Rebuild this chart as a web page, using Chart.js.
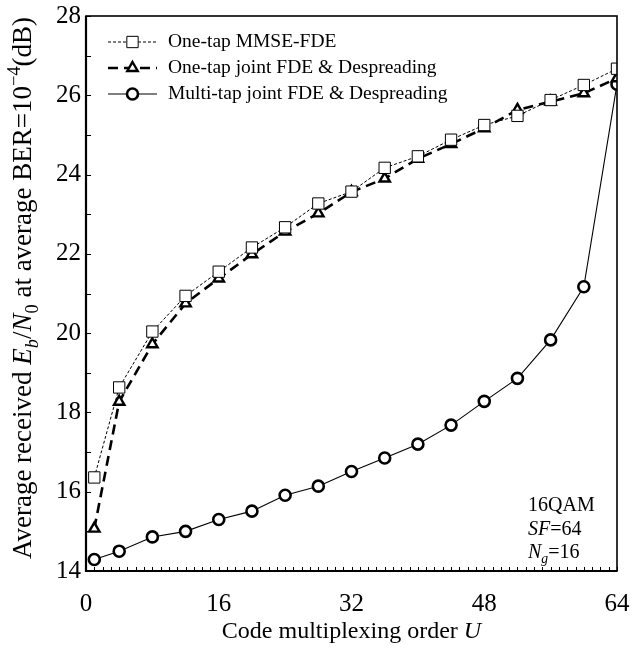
<!DOCTYPE html>
<html>
<head>
<meta charset="utf-8">
<script src="https://cdn.jsdelivr.net/npm/chart.js@4.4.1/dist/chart.umd.min.js"></script>
<style>
html,body{margin:0;padding:0;background:#fff;}
#c{display:block;}
</style>
</head>
<body>
<canvas id="c" width="633" height="650"></canvas>
<script>
// ---- data ----
const codeOrderU = [1, 4, 8, 12, 16, 20, 24, 28, 32, 36, 40, 44, 48, 52, 56, 60, 64];
const oneTapMMSE = [16.36, 18.63, 20.04, 20.94, 21.55, 22.16, 22.67, 23.27, 23.57, 24.17, 24.46, 24.88, 25.25, 25.48, 25.88, 26.26, 26.67];
const oneTapJoint = [15.07, 18.27, 19.72, 20.75, 21.38, 21.99, 22.56, 23.02, 23.56, 23.90, 24.40, 24.77, 25.17, 25.63, 25.84, 26.05, 26.43];
const multiTapJoint = [14.29, 14.50, 14.86, 15.00, 15.30, 15.51, 15.91, 16.14, 16.51, 16.85, 17.20, 17.68, 18.28, 18.86, 19.83, 21.17, 26.28];
const seriesLabels = ["One-tap MMSE-FDE", "One-tap joint FDE & Despreading", "Multi-tap joint FDE & Despreading"];
const xTickValues = [0, 16, 32, 48, 64];
const yTickValues = [14, 16, 18, 20, 22, 24, 26, 28];
const noteLines = [
  [{t: "16QAM"}],
  [{t: "SF", i: true}, {t: "=64"}],
  [{t: "N", i: true}, {t: "g", i: true, sub: true}, {t: "=16"}]
];
const yTitleRuns = [
  {t: "Average received "}, {t: "E", i: true}, {t: "b", i: true, sub: true}, {t: "/"},
  {t: "N", i: true}, {t: "0", sub: true}, {t: " at average BER=10"}, {t: "\u22124", sup: true}, {t: "(dB)"}
];
const xTitleRuns = [{t: "Code multiplexing order "}, {t: "U", i: true}];

const FONT = '"Liberation Serif", "Times New Roman", serif';

function pts(xs, ys) { return xs.map((x, k) => ({x: x, y: ys[k]})); }

function fontStr(size, italic) { return (italic ? 'italic ' : '') + size + 'px ' + FONT; }

function runsWidth(ctx, runs, size) {
  let w = 0;
  for (const r of runs) {
    const s = (r.sub || r.sup) ? size * 0.68 : size;
    ctx.font = fontStr(s, r.i);
    w += ctx.measureText(r.t).width;
  }
  return w;
}
function drawRuns(ctx, runs, x, y, size, align) {
  const total = runsWidth(ctx, runs, size);
  let cx = align === 'center' ? x - total / 2 : (align === 'right' ? x - total : x);
  ctx.textBaseline = 'alphabetic';
  ctx.textAlign = 'left';
  for (const r of runs) {
    const s = (r.sub || r.sup) ? size * 0.68 : size;
    ctx.font = fontStr(s, r.i);
    let dy = 0;
    if (r.sub) dy = size * 0.25;
    if (r.sup) dy = -size * 0.42;
    ctx.fillText(r.t, cx, y + dy);
    cx += ctx.measureText(r.t).width;
  }
}

const framePlugin = {
  id: 'frameAndDecor',
  afterDatasetsDraw(chart) {
    const ctx = chart.ctx;
    const a = chart.chartArea;
    const xs = chart.scales.x, ys = chart.scales.y;
    ctx.save();
    ctx.strokeStyle = '#000';
    // inward minor ticks
    ctx.lineWidth = 1;
    ctx.beginPath();
    for (let v = xs.min; v <= xs.max; v += 1) {
      const px = Math.round(xs.getPixelForValue(v)) + 0.5;
      ctx.moveTo(px, a.bottom);
      ctx.lineTo(px, a.bottom - 4);
    }
    for (let v = ys.min; v <= ys.max; v += 1) {
      const py = Math.round(ys.getPixelForValue(v)) + 0.5;
      ctx.moveTo(a.left, py);
      ctx.lineTo(a.left + 5, py);
    }
    ctx.stroke();
    // frame
    ctx.lineWidth = 1.6;
    ctx.strokeRect(a.left, a.top, a.right - a.left, a.bottom - a.top);
    ctx.lineWidth = 2.2;
    ctx.beginPath();
    ctx.moveTo(a.left, a.top); ctx.lineTo(a.left, a.bottom); ctx.lineTo(a.right, a.bottom);
    ctx.stroke();

    // legend
    const ds = chart.data.datasets;
    const lx0 = a.left + 22, lx1 = a.left + 71, tx = a.left + 82;
    const rows = [42, 68, 94];
    for (let k = 0; k < ds.length; k++) {
      const d = ds[k];
      const y = rows[k];
      ctx.save();
      ctx.strokeStyle = d.borderColor;
      ctx.lineWidth = d.borderWidth;
      ctx.setLineDash(d.borderDash || []);
      ctx.beginPath();
      ctx.moveTo(lx0, y); ctx.lineTo(lx1, y);
      ctx.stroke();
      ctx.restore();
      ctx.save();
      ctx.fillStyle = '#fff';
      ctx.strokeStyle = '#000';
      ctx.lineWidth = d.pointBorderWidth;
      ctx.beginPath();
      Chart.helpers.drawPoint(ctx, {pointStyle: d.pointStyle, radius: d.pointRadius, borderWidth: d.pointBorderWidth, rotation: 0}, (lx0 + lx1) / 2, y);
      ctx.restore();
      ctx.fillStyle = '#000';
      ctx.font = fontStr(19.5, false);
      ctx.textBaseline = 'middle';
      ctx.textAlign = 'left';
      ctx.fillText(d.label, tx, y);
    }

    // note in lower right
    ctx.fillStyle = '#000';
    const nx = a.right - 89;
    const ny = [511, 535, 558];
    noteLines.forEach((runs, k) => drawRuns(ctx, runs, nx, ny[k], 20, 'left'));

    // axis titles
    drawRuns(ctx, xTitleRuns, (a.left + a.right) / 2, 638, 24, 'center');
    ctx.save();
    ctx.translate(31, 288);
    ctx.rotate(-Math.PI / 2);
    drawRuns(ctx, yTitleRuns, 0, 0, 27, 'center');
    ctx.restore();
    ctx.restore();
  }
};

const common = {borderColor: '#000', pointBackgroundColor: '#fff', pointBorderColor: '#000', fill: false, tension: 0, showLine: true};

new Chart(document.getElementById('c'), {
  type: 'scatter',
  data: {
    datasets: [
      Object.assign({}, common, {
        label: seriesLabels[0], data: pts(codeOrderU, oneTapMMSE),
        borderWidth: 1, borderDash: [3, 2], pointStyle: 'rect', pointRadius: 8, pointBorderWidth: 1
      }),
      Object.assign({}, common, {
        label: seriesLabels[1], data: pts(codeOrderU, oneTapJoint),
        borderWidth: 2.6, borderDash: [10, 6], pointStyle: 'triangle', pointRadius: 6, pointBorderWidth: 2.4
      }),
      Object.assign({}, common, {
        label: seriesLabels[2], data: pts(codeOrderU, multiTapJoint),
        borderWidth: 1.1, borderDash: [], pointStyle: 'circle', pointRadius: 5.5, pointBorderWidth: 2.6
      })
    ]
  },
  options: {
    responsive: false,
    animation: false,
    devicePixelRatio: 1,
    layout: {padding: {top: 16, right: 16, left: 0, bottom: 0}},
    plugins: {legend: {display: false}, tooltip: {enabled: false}},
    scales: {
      x: {
        type: 'linear', min: 0, max: 64,
        afterFit(s) { s.height = 79; s.paddingLeft = 0; s.paddingRight = 0; },
        afterBuildTicks(s) { s.ticks = xTickValues.map(v => ({value: v})); },
        ticks: {color: '#000', font: {family: FONT, size: 25}, padding: 18, maxRotation: 0},
        grid: {display: true, drawOnChartArea: false, drawTicks: false},
        border: {display: false},
        title: {display: false}
      },
      y: {
        type: 'linear', min: 14, max: 28,
        afterFit(s) { s.width = 86; s.paddingTop = 0; s.paddingBottom = 0; },
        afterBuildTicks(s) { s.ticks = yTickValues.map(v => ({value: v})); },
        ticks: {color: '#000', font: {family: FONT, size: 25}, padding: 5},
        grid: {display: true, drawOnChartArea: false, drawTicks: false},
        border: {display: false},
        title: {display: false}
      }
    }
  },
  plugins: [framePlugin]
});
</script>
</body>
</html>
